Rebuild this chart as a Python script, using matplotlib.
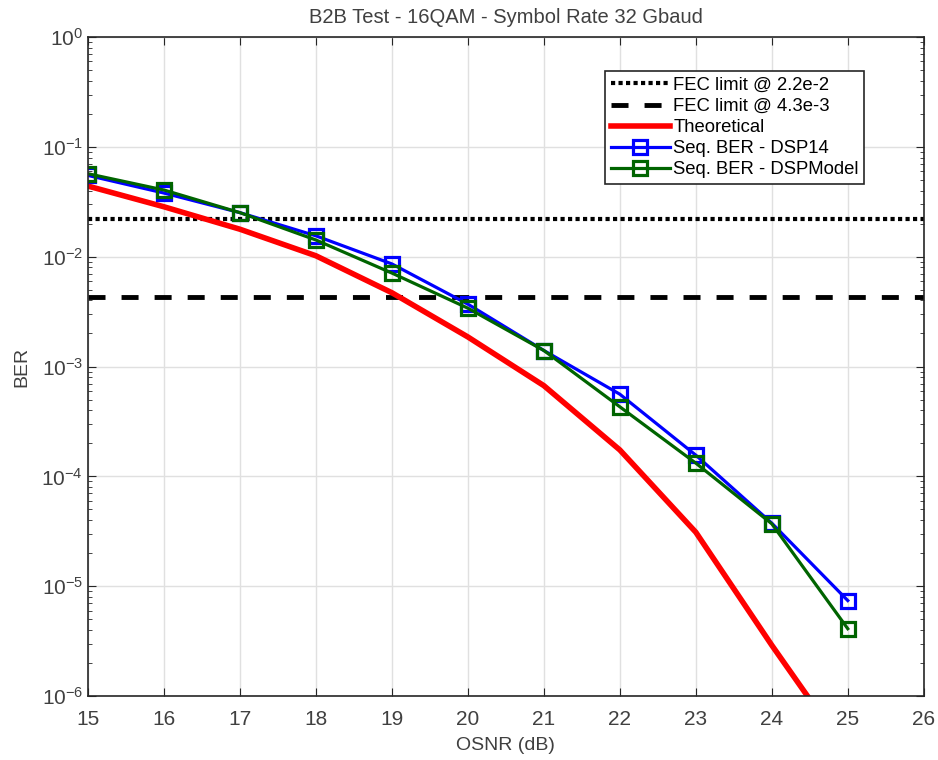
import numpy as np
import matplotlib.pyplot as plt

plt.rcParams['font.family'] = ['Liberation Sans', 'DejaVu Sans']

# OSNR (dB)
osnr = [15, 16, 17, 18, 19, 20, 21, 22, 23, 24, 25]

# BER values
ber_theory = [0.044, 0.0285, 0.0178, 0.0102, 0.0047, 0.00186, 6.7e-4, 1.74e-4, 3.1e-5, 2.9e-6, 3.0e-7]
ber_dsp14 = [0.055, 0.038, 0.0252, 0.0155, 0.0086, 0.0037, 0.0014, 5.6e-4, 1.56e-4, 3.75e-5, 7.4e-6]
ber_dspmodel = [0.057, 0.0405, 0.0252, 0.0142, 0.0071, 0.0034, 0.0014, 4.3e-4, 1.32e-4, 3.7e-5, 4.1e-6]

fec_hi = 2.2e-2
fec_lo = 4.3e-3

txt = '#404040'

fig = plt.figure(figsize=(9.38, 7.6), dpi=100)
ax = fig.add_axes([0.0938, 0.0842, 0.891, 0.867])

ax.axhline(fec_hi, color='k', ls=(0, (1, 0.8)), lw=3, label='FEC limit @ 2.2e-2')
ax.axhline(fec_lo, color='k', ls=(0, (3.5, 3.3)), lw=3.5, label='FEC limit @ 4.3e-3')
ax.semilogy(osnr, ber_theory, color='#ff0000', lw=4, label='Theoretical')
ax.semilogy(osnr, ber_dsp14, color='#0000ff', lw=2.3, marker='s', ms=10,
            mfc='none', mew=2.3, label='Seq. BER - DSP14')
ax.semilogy(osnr, ber_dspmodel, color='#006400', lw=2.3, marker='s', ms=10,
            mfc='none', mew=2.3, label='Seq. BER - DSPModel')

ax.set_xlim(15, 26)
ax.set_ylim(1e-6, 1)
ax.set_xticks(range(15, 27))
ax.set_yticks([1e-6, 1e-5, 1e-4, 1e-3, 1e-2, 1e-1, 1])
ax.grid(True, which='major', color='#e0e0e0', lw=1)
ax.tick_params(which='both', direction='in', top=True, right=True,
               colors='#262626', labelcolor=txt, labelsize=15)
ax.tick_params(axis='x', pad=10)
ax.tick_params(which='major', length=6)
ax.tick_params(which='minor', length=3)
ax.yaxis.set_minor_locator(plt.matplotlib.ticker.LogLocator(base=10, subs=np.arange(2, 10)))
ax.yaxis.set_minor_formatter(plt.NullFormatter())
for s in ax.spines.values():
    s.set_color('#262626')
    s.set_linewidth(1.2)

ax.set_title('B2B Test - 16QAM - Symbol Rate 32 Gbaud', fontsize=14.5, color=txt, pad=10)
ax.set_xlabel('OSNR (dB)', fontsize=14, color=txt, labelpad=6)
ax.set_ylabel('BER', fontsize=14, color=txt, labelpad=8)

leg = ax.legend(loc='upper right', bbox_to_anchor=(0.94, 0.962), fontsize=13.3,
                fancybox=False, framealpha=1, edgecolor='#262626',
                borderpad=0.3, labelspacing=0.22, handlelength=3.2, handletextpad=0.2)
leg.get_frame().set_linewidth(1.2)

fig.savefig('out.png', dpi=100)
